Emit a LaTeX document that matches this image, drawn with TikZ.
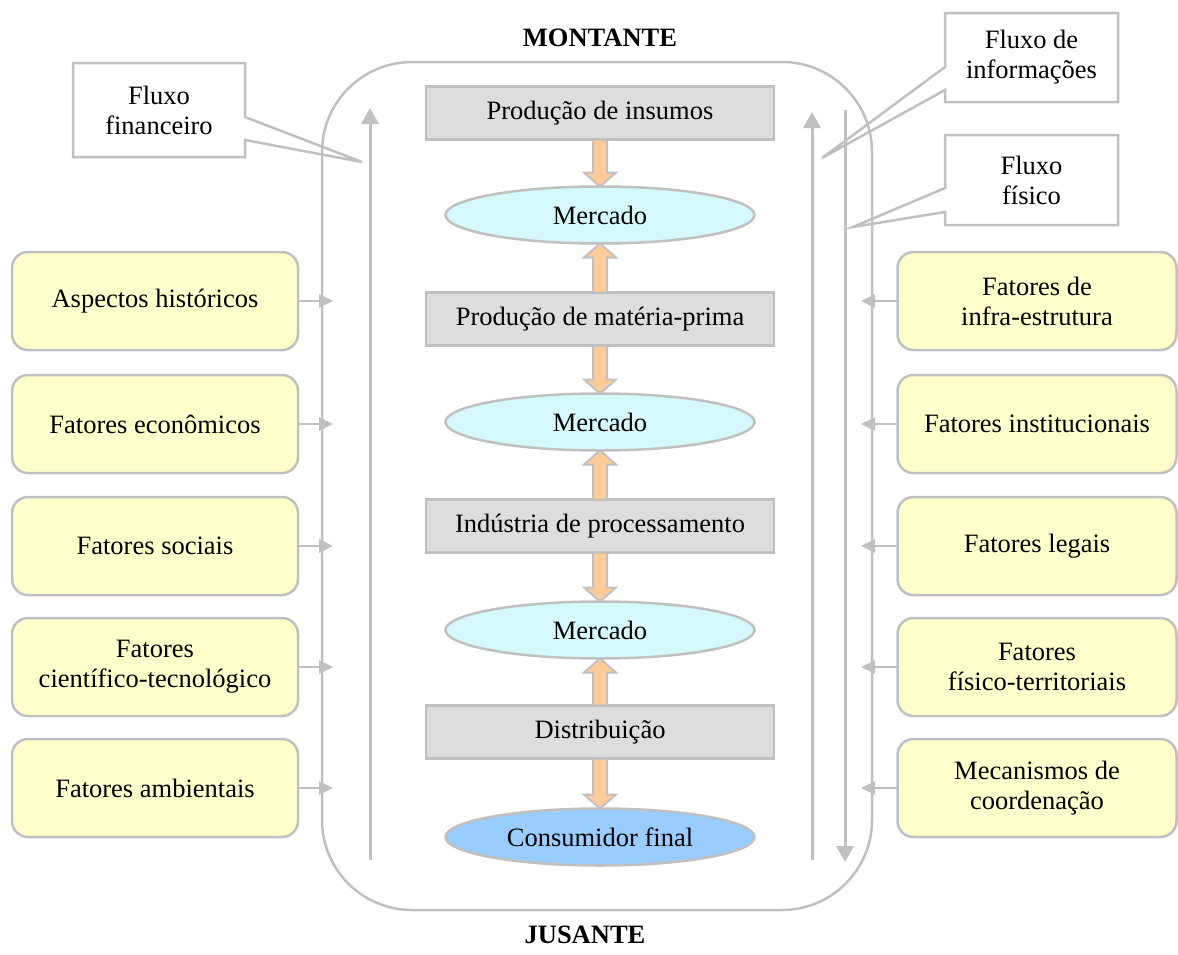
\documentclass[tikz,border=0pt]{standalone}
\usepackage{fontspec}
\setmainfont{Liberation Serif}
\usetikzlibrary{shapes.geometric,arrows.meta,calc}
\definecolor{linegray}{HTML}{C0C0C0}
\definecolor{boxgray}{HTML}{DDDDDD}
\definecolor{marketcyan}{HTML}{D5F8FC}
\definecolor{consumerblue}{HTML}{99CCFF}
\definecolor{factoryellow}{HTML}{FFFFCC}
\definecolor{flowpeach}{HTML}{FFCC99}
\newcommand{\chainarrow}[2]{%
  \coordinate (ca-h) at ($(#2)!14pt!(#1)$);
  \filldraw [chainarr] ($(#1)!7pt!90:(#2)$) -- ($(ca-h)!7pt!90:(#2)$) -- ($(ca-h)!16pt!90:(#2)$) -- (#2)
    -- ($(ca-h)!16pt!-90:(#2)$) -- ($(ca-h)!7pt!-90:(#2)$) -- ($(#1)!7pt!-90:(#2)$) -- cycle;}
\begin{document}
\begin{tikzpicture}[x=1pt,y=-1pt,
   every node/.style={font=\fontsize{26.5}{30}\selectfont},
   chainbox/.style={draw=linegray,line width=2.5pt,fill=boxgray,minimum width=348pt,minimum height=53pt,inner sep=0pt,outer sep=0pt},
   market/.style={ellipse,draw=linegray,line width=2.5pt,fill=marketcyan,minimum width=309pt,minimum height=57pt,inner sep=0pt,outer sep=0pt},
   factor/.style={draw=linegray,line width=2.5pt,fill=factoryellow,rounded corners=16pt,minimum height=98pt,align=center,inner sep=0pt,outer sep=0pt},
   notebox/.style={fill=white,align=center,inner sep=0pt,outer sep=0pt},
   noteline/.style={draw=linegray,line width=2.5pt,line join=miter},
   chainarr/.style={draw=linegray,line width=2pt,fill=flowpeach,line join=miter},
   sidearr/.style={draw=linegray,line width=2.5pt,-{Triangle[length=14pt,width=13pt]}},
   flowarr/.style={draw=linegray,line width=3pt,-{Triangle[length=16pt,width=17pt]}},
   flowline/.style={draw=linegray,line width=3pt}]
   \useasboundingbox (0,0) rectangle (1178,954);
   \draw [linegray,line width=2.5pt,rounded corners=90pt] (322,62) rectangle (872,910);
   \node (montante) at (600,38) {\bfseries MONTANTE};
   \node (jusante) at (585,935) {\bfseries JUSANTE};
   \node [chainbox] (insumos) at (600,113) {Produção de insumos};
   \node [market] (merc1) at (600,215) {Mercado};
   \node [chainbox] (materia) at (600,319) {Produção de matéria-prima};
   \node [market] (merc2) at (600,422) {Mercado};
   \node [chainbox] (industria) at (600,526) {Indústria de processamento};
   \node [market] (merc3) at (600,630) {Mercado};
   \node [chainbox] (distrib) at (600,732) {Distribuição};
   \node [market,fill=consumerblue] (consumidor) at (600,837) {Consumidor final};
   \chainarrow{insumos.south}{merc1.north}
   \chainarrow{materia.north}{merc1.south}
   \chainarrow{materia.south}{merc2.north}
   \chainarrow{industria.north}{merc2.south}
   \chainarrow{industria.south}{merc3.north}
   \chainarrow{distrib.north}{merc3.south}
   \chainarrow{distrib.south}{consumidor.north}
   \coordinate (fin bottom) at (370,860);
   \coordinate (fin top) at (370,108);
   \coordinate (info bottom) at (812,860);
   \coordinate (info top) at (812,112);
   \coordinate (fis top) at (845,110);
   \coordinate (fis bottom) at (845,862);
   \draw [flowarr] (fin bottom) -- (fin top);
   \draw [flowarr] (info bottom) -- (info top);
   \draw [flowarr] (fis top) -- (fis bottom);
   \node [notebox,minimum width=172pt,minimum height=94pt] (fin) at (159,110) {Fluxo\\financeiro};
   \coordinate (fin tip) at (362,162);
   \draw [noteline] (fin.north west) -- (fin.north east) -- ($(fin.north east)+(0,54)$) -- (fin tip)
      -- ($(fin.north east)+(0,77)$) -- (fin.south east) -- (fin.south west) -- cycle;
   \node [notebox,minimum width=173pt,minimum height=89pt] (info) at (1031.5,57.5) {Fluxo de\\informações};
   \coordinate (info tip) at (822,158);
   \draw [noteline] (info.north west) -- (info.north east) -- (info.south east) -- (info.south west)
      -- ($(info.north west)+(0,77)$) -- (info tip) -- ($(info.north west)+(0,54)$) -- cycle;
   \node [notebox,minimum width=173pt,minimum height=90pt] (fis) at (1031.5,180) {Fluxo\\físico};
   \coordinate (fis tip) at (853,227);
   \draw [noteline] (fis.north west) -- (fis.north east) -- (fis.south east) -- (fis.south west)
      -- ($(fis.north west)+(0,77)$) -- (fis tip) -- ($(fis.north west)+(0,53)$) -- cycle;
   \node [factor,minimum width=286pt] (hist) at (155,301) {Aspectos históricos};
   \node [factor,minimum width=286pt] (econ) at (155,424) {Fatores econômicos};
   \node [factor,minimum width=286pt] (soc) at (155,546) {Fatores sociais};
   \node [factor,minimum width=286pt] (cien) at (155,667) {Fatores\\científico-tecnológico};
   \node [factor,minimum width=286pt] (amb) at (155,788) {Fatores ambientais};
   \node [factor,minimum width=279pt] (infra) at (1037,301) {Fatores de\\infra-estrutura};
   \node [factor,minimum width=279pt] (inst) at (1037,424) {Fatores institucionais};
   \node [factor,minimum width=279pt] (leg) at (1037,546) {Fatores legais};
   \node [factor,minimum width=279pt] (terr) at (1037,667) {Fatores\\físico-territoriais};
   \node [factor,minimum width=279pt] (coord) at (1037,788) {Mecanismos de\\coordenação};
   \coordinate (hist in) at (333,301);
   \coordinate (econ in) at (333,424);
   \coordinate (soc in) at (333,546);
   \coordinate (cien in) at (333,667);
   \coordinate (amb in) at (333,788);
   \coordinate (infra in) at (861,301);
   \coordinate (inst in) at (861,424);
   \coordinate (leg in) at (861,546);
   \coordinate (terr in) at (861,667);
   \coordinate (coord in) at (861,788);
   \draw [sidearr] (hist) -- (hist in);
   \draw [sidearr] (econ) -- (econ in);
   \draw [sidearr] (soc) -- (soc in);
   \draw [sidearr] (cien) -- (cien in);
   \draw [sidearr] (amb) -- (amb in);
   \draw [sidearr] (infra) -- (infra in);
   \draw [sidearr] (inst) -- (inst in);
   \draw [sidearr] (leg) -- (leg in);
   \draw [sidearr] (terr) -- (terr in);
   \draw [sidearr] (coord) -- (coord in);
\end{tikzpicture}
\end{document}
